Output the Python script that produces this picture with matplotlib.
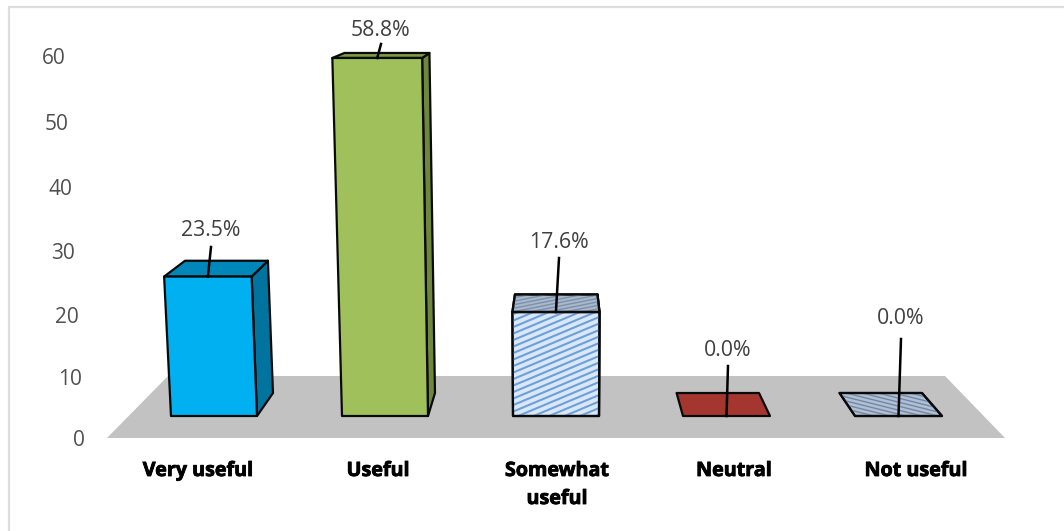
import matplotlib

matplotlib.use("Agg")
import matplotlib.patheffects as pe
import matplotlib.pyplot as plt
import numpy as np
from matplotlib.patches import Polygon

categories = ["Very useful", "Useful", "Somewhat\nuseful", "Neutral", "Not useful"]
values = [23.5, 58.8, 17.6, 0.0, 0.0]
value_labels = ["23.5%", "58.8%", "17.6%", "0.0%", "0.0%"]
axis_ticks = [0, 10, 20, 30, 40, 50, 60]

# left/right edge of each column's front face on the floor
front_left = [171, 342, 513, 683, 855]
front_right = [257, 428, 599, 770, 942]
label_x = [211, 381, 559, 728, 901]
label_y = [230, 30, 243, 351, 318]
leader_top = [247, 44, 258, 366, 339]
category_x = [198, 378, 557, 734, 916]
tick_x = [79, 70, 67, 63, 60, 57, 54]

front_colors = ["#00b0f0", "#9fc05a", "#d9e8f8", "#a5362f", "#aebfd6"]
top_colors = ["#0087b9", "#7d9a45", "#a9b8cc", "#a5362f", "#aebfd6"]
side_colors = ["#00739f", "#6e873c", "#9fb2cc", "#a5362f", "#aebfd6"]

FLOOR_Y = 416
VANISH_X = 561
DEPTH = 0.0526
LABEL_GRAY = "#404040"


def bar_height(v):
    return 5.83 * v + 0.0044 * v**2


def wall_y(v):
    return 441 - (6.1 * v + 0.0045 * v**2)


def project(x, v, back=False):
    """Floor position x and value v to canvas coordinates."""
    px = x + (x - VANISH_X) * 0.00075 * v
    py = FLOOR_Y - bar_height(v)
    if back:
        px += (VANISH_X - px) * DEPTH
        py -= 23 - 0.306 * v
    return px, py


def add_stripes(ax, patch, color, spacing, slope, lw):
    # shallow diagonal pattern clipped to a face; slope > 0 rises to the right
    xy = patch.get_xy()
    x0, x1 = xy[:, 0].min(), xy[:, 0].max()
    y0, y1 = xy[:, 1].min(), xy[:, 1].max()
    run = (x1 - x0) * abs(slope)
    for c in np.arange(y0 - run, y1 + run, spacing):
        line, = ax.plot(
            [x0, x1], [c, c - (x1 - x0) * slope],
            color=color, lw=lw, solid_capstyle="butt", zorder=patch.get_zorder() + 0.1,
        )
        line.set_clip_path(patch)


fig = plt.figure(figsize=(10.64, 5.31), dpi=100, facecolor="white")
ax = fig.add_axes([0, 0, 1, 1])
ax.set_xlim(0, 1064)
ax.set_ylim(531, 0)
ax.axis("off")

# chart frame
ax.plot([9, 9, 1064], [531, 7, 7], color="#dedede", lw=1.6, zorder=1)

# floor
floor = Polygon(
    [(107, 438), (168, 376), (945, 376), (1005, 438)],
    closed=True, facecolor="#c3c2c2", edgecolor="none", zorder=2,
)
ax.add_patch(floor)

edge = {"edgecolor": "#0a0a0a", "linewidth": 1.6, "joinstyle": "round"}

for i, v in enumerate(values):
    xl, xr = front_left[i], front_right[i]
    fl_bottom, fr_bottom = project(xl, 0), project(xr, 0)
    fl_top, fr_top = project(xl, v), project(xr, v)
    bl_top, br_top = project(xl, v, back=True), project(xr, v, back=True)
    br_bottom = project(xr, 0, back=True)

    top = Polygon([fl_top, fr_top, br_top, bl_top], facecolor=top_colors[i], zorder=3.5, **edge)
    ax.add_patch(top)
    if v > 0:
        side = Polygon([fr_bottom, br_bottom, br_top, fr_top], facecolor=side_colors[i], zorder=3, **edge)
        front = Polygon([fl_bottom, fr_bottom, fr_top, fl_top], facecolor=front_colors[i], zorder=4, **edge)
        ax.add_patch(side)
        ax.add_patch(front)

    # pattern fills for the two lighter categories
    if categories[i].startswith("Somewhat"):
        add_stripes(ax, front, "#6f9fd8", spacing=6.5, slope=0.42, lw=1.5)
        add_stripes(ax, top, "#7b90ab", spacing=3.5, slope=0.2, lw=1.0)
        ax.add_patch(Polygon(front.get_xy(), fill=False, zorder=4.5, **edge))
        ax.add_patch(Polygon(top.get_xy(), fill=False, zorder=4.5, **edge))
    elif categories[i] == "Not useful":
        add_stripes(ax, top, "#76889f", spacing=4.0, slope=-0.25, lw=1.0)
        ax.add_patch(Polygon(top.get_xy(), fill=False, zorder=4.5, **edge))

    # leader from the label down to the column
    anchor = project((xl + xr) / 2, v)
    ax.plot([label_x[i], anchor[0]], [leader_top[i], anchor[1]], color="black", lw=1.8, zorder=6)
    ax.text(label_x[i], label_y[i], value_labels[i], ha="center", va="center",
            fontsize=15.3, family="Open Sans", color=LABEL_GRAY, zorder=7)

    for j, part in enumerate(categories[i].split("\n")):
        ax.text(category_x[i], 471 + 28 * j, part, ha="center", va="center",
                fontsize=14.2, family="Open Sans", fontweight="bold", color="black", zorder=7,
                path_effects=[pe.withStroke(linewidth=0.6, foreground="black")])

for t, x in zip(axis_ticks, tick_x):
    ax.text(x, wall_y(t), str(t), ha="center", va="center",
            fontsize=15, family="Open Sans", color="#505050", zorder=7)

fig.savefig("out.png", dpi=100, facecolor="white")
plt.close(fig)
